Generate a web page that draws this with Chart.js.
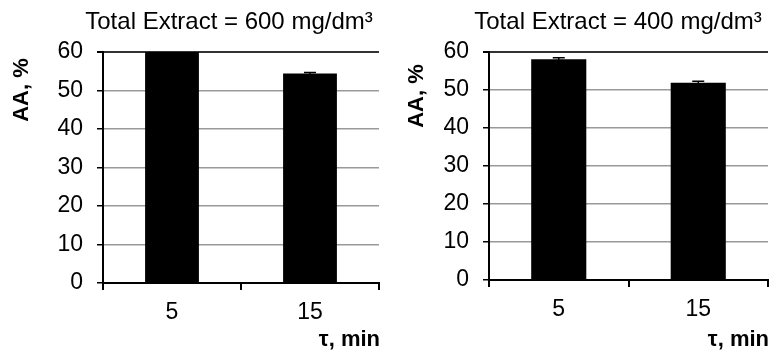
<!DOCTYPE html>
<html lang="en">
<head>
  <meta charset="UTF-8">
  <title>AA vs time</title>
  <script src="https://cdn.jsdelivr.net/npm/chart.js"></script>
  <style>
    body { margin: 0; background: #fff; }
    .wrap { position: relative; width: 772px; height: 351px; }
    canvas { position: absolute; top: 0; }
    #left { left: 0; }
    #right { left: 386px; }
  </style>
</head>
<body>
  <div class="wrap">
    <canvas id="left" width="386" height="351"></canvas>
    <canvas id="right" width="386" height="351"></canvas>
  </div>

  <script>
    const times = ['5', '15'];
    const aa600 = [60, 54.4];
    const err600 = [0, 0.3];
    const aa400 = [58.1, 51.9];
    const err400 = [0.4, 0.4];
    const yTicks = [0, 10, 20, 30, 40, 50, 60];

    const FONT = "'Liberation Sans', Arial, sans-serif";

    // draws the title, axis titles and the small error bars
    const extras = {
      id: 'extras',
      afterDatasetsDraw(chart, args, opts) {
        const ctx = chart.ctx;
        const y = chart.scales.y;
        const meta = chart.getDatasetMeta(0);
        ctx.save();
        ctx.strokeStyle = '#000';
        ctx.lineWidth = 1.5;
        meta.data.forEach((bar, i) => {
          const e = opts.errors[i];
          if (!e) return;
          const v = chart.data.datasets[0].data[i];
          const top = y.getPixelForValue(v + e);
          const bot = y.getPixelForValue(v - e);
          ctx.beginPath();
          ctx.moveTo(bar.x, top); ctx.lineTo(bar.x, bot);
          ctx.moveTo(bar.x - 6, top); ctx.lineTo(bar.x + 6, top);
          ctx.stroke();
        });
        ctx.restore();
      },
      afterDraw(chart, args, opts) {
        const ctx = chart.ctx;
        const area = chart.chartArea;
        ctx.save();
        ctx.fillStyle = '#000';
        ctx.font = '24px ' + FONT;
        ctx.textAlign = 'center';
        ctx.textBaseline = 'alphabetic';
        ctx.fillText(opts.title, opts.titleX, 29);

        ctx.font = 'bold 22px ' + FONT;
        ctx.textAlign = 'right';
        ctx.fillText('\u03C4, min', area.right + 1, 346);

        ctx.translate(opts.yTitleX, opts.yTitleY);
        ctx.rotate(-Math.PI / 2);
        ctx.textAlign = 'center';
        ctx.textBaseline = 'middle';
        ctx.fillText('AA, %', 0, 0);
        ctx.restore();
      }
    };

    function makeChart(id, values, errors, title, cfg) {
      return new Chart(document.getElementById(id), {
        type: 'bar',
        data: {
          labels: times,
          datasets: [{
            data: values,
            backgroundColor: '#000',
            borderWidth: 0,
            barPercentage: cfg.barPct,
            categoryPercentage: 1
          }]
        },
        options: {
          responsive: false,
          animation: false,
          layout: { padding: { left: 0, right: cfg.padRight, top: 52, bottom: 0 } },
          plugins: {
            legend: { display: false },
            tooltip: { enabled: false },
            extras: {
              title: title, titleX: cfg.titleX, errors: errors,
              yTitleX: cfg.yTitleX, yTitleY: cfg.yTitleY
            }
          },
          scales: {
            x: {
              grid: {
                offset: true,
                drawOnChartArea: false,
                color: '#000',
                tickLength: 7,
                lineWidth: 2
              },
              border: { color: '#000', width: 2 },
              ticks: { color: '#000', font: { family: FONT, size: 23 }, padding: 9 },
              afterFit(scale) { scale.height = cfg.xHeight; }
            },
            y: {
              min: 0,
              max: 60,
              afterBuildTicks(scale) { scale.ticks = yTicks.map(v => ({ value: v })); },
              grid: {
                color: ctx => ctx.tick && ctx.tick.value === 60 ? '#333' : '#999',
                lineWidth: ctx => ctx.tick && ctx.tick.value === 60 ? 2 : 1.5,
                tickColor: '#000',
                tickLength: 6
              },
              border: { color: '#000', width: 2 },
              ticks: { color: '#000', font: { family: FONT, size: 23 }, padding: 14 },
              afterFit(scale) { scale.width = 103; }
            }
          }
        },
        plugins: [extras]
      });
    }

    makeChart('left', aa600, err600, 'Total Extract = 600 mg/dm\u00B3',
      { padRight: 7, xHeight: 68, barPct: 0.39, titleX: 229, yTitleX: 22, yTitleY: 90 });
    makeChart('right', aa400, err400, 'Total Extract = 400 mg/dm\u00B3',
      { padRight: 4, xHeight: 71, barPct: 0.395, titleX: 232, yTitleX: 31, yTitleY: 96 });
  </script>
</body>
</html>
